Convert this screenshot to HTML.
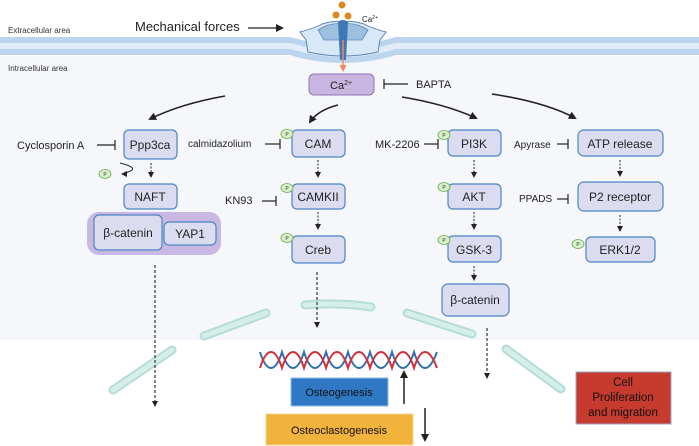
<!DOCTYPE html>
<html><head><meta charset="utf-8"><style>
body{margin:0;background:#fff}
svg{display:block;font-family:"Liberation Sans",sans-serif}
</style></head><body>
<svg width="699" height="446" viewBox="0 0 699 446" xmlns="http://www.w3.org/2000/svg">
<defs>
<marker id="ah" markerWidth="8" markerHeight="8" refX="6" refY="4" orient="auto" markerUnits="userSpaceOnUse"><path d="M0,0 L8,4 L0,8 Z" fill="#222"/></marker>
<marker id="as" markerWidth="6" markerHeight="6" refX="5" refY="3" orient="auto" markerUnits="userSpaceOnUse"><path d="M0,0 L6,3 L0,6 Z" fill="#222"/></marker>
<marker id="ao" markerWidth="7" markerHeight="7" refX="5" refY="3.5" orient="auto" markerUnits="userSpaceOnUse"><path d="M0,0 L7,3.5 L0,7 Z" fill="#f08a5d"/></marker>
</defs>
<rect width="699" height="446" fill="#fff"/>
<path d="M0,56 L699,56 L699,340 L0,340 Z" fill="#f5f7fa"/>
<!-- membrane -->
<path d="M0,40 L290,40 Q343,56 396,40 L699,40" fill="none" stroke="#bcd4ee" stroke-width="6"/>
<path d="M0,46 L290,46 Q343,62 396,46 L699,46" fill="none" stroke="#e3edf8" stroke-width="6"/>
<path d="M0,52 L290,52 Q343,68 396,52 L699,52" fill="none" stroke="#bcd4ee" stroke-width="6"/>
<!-- channel -->
<path d="M300,32 Q315,28 322,24 Q335,20 343,22 Q351,20 364,24 Q371,28 386,32 L380,40 L378,52 Q343,60 308,52 L306,40 Z" fill="#d9e8f6" stroke="#5a88b8" stroke-width="1"/>
<path d="M318,30 Q330,22 343,24 Q356,22 368,30 L362,40 L324,40 Z" fill="#9dbfe0" stroke="#5a88b8" stroke-width="0.8"/>
<path d="M338,22 Q343,18 348,22 L346,60 L340,60 Z" fill="#3f79b5"/>
<line x1="343" y1="40" x2="343" y2="70" stroke="#f08a5d" stroke-width="1.5" marker-end="url(#ao)"/>
<circle cx="342" cy="5" r="3.5" fill="#d98a1e"/><circle cx="336" cy="15" r="3.5" fill="#d98a1e"/><circle cx="348" cy="16" r="3.5" fill="#d98a1e"/>
<text x="362" y="22" font-size="8" fill="#222">Ca<tspan font-size="5" dy="-3">2+</tspan></text>
<text x="8" y="33" font-size="8" fill="#333">Extracellular area</text>
<text x="8" y="71" font-size="8" fill="#333">Intracellular area</text>
<text x="135" y="31" font-size="13" fill="#222">Mechanical forces</text>
<line x1="248" y1="28" x2="282" y2="28" stroke="#222" stroke-width="1.3" marker-end="url(#ah)"/>
<!-- Ca box -->
<rect x="309" y="74" width="65" height="21" rx="5" fill="#c9b6e0" stroke="#8d74b5" stroke-width="1"/>
<text x="330" y="89" font-size="11" fill="#222">Ca<tspan font-size="7" dy="-4">2+</tspan></text>
<line x1="384" y1="84" x2="408" y2="84" stroke="#222" stroke-width="1.2"/><line x1="384" y1="79" x2="384" y2="89" stroke="#222" stroke-width="1.2"/>
<text x="416" y="88" font-size="11" fill="#222">BAPTA</text>
<!-- curved arrows -->
<g fill="none" stroke="#222" stroke-width="1.6">
<path d="M225,96 Q180,104 150,119" marker-end="url(#ah)"/>
<path d="M338,105 Q318,110 310,122" marker-end="url(#ah)"/>
<path d="M402,97 Q445,104 476,118" marker-end="url(#ah)"/>
<path d="M492,94 Q545,102 575,118" marker-end="url(#ah)"/>
</g>
<!-- nuclear membrane -->
<g stroke="#b5ddd7" stroke-width="9" stroke-linecap="round" fill="none">
<path d="M113,390 L172,350"/><path d="M204,336 L266,313"/><path d="M305,305 Q338,302 371,307"/>
<path d="M407,313 L472,334"/><path d="M506,349 L561,389"/>
</g>
<g stroke="#d6eeea" stroke-width="5" stroke-linecap="round" fill="none">
<path d="M113,390 L172,350"/><path d="M204,336 L266,313"/><path d="M305,305 Q338,302 371,307"/>
<path d="M407,313 L472,334"/><path d="M506,349 L561,389"/>
</g>
<!-- boxes -->
<g fill="#dcdcf0" stroke="#4a86c5" stroke-width="1.2">
<rect x="87" y="212" width="134" height="43" rx="12" fill="#c9b8e2" stroke="none"/>
<rect x="124" y="130" width="53" height="29" rx="5"/>
<rect x="124" y="184" width="53" height="25" rx="5"/>
<rect x="94" y="215" width="68" height="35" rx="5"/>
<rect x="164" y="222" width="52" height="23" rx="5"/>
<rect x="292" y="130" width="53" height="27" rx="5"/>
<rect x="292" y="184" width="53" height="25" rx="5"/>
<rect x="292" y="236" width="53" height="27" rx="5"/>
<rect x="448" y="130" width="53" height="26" rx="5"/>
<rect x="448" y="184" width="53" height="25" rx="5"/>
<rect x="448" y="236" width="53" height="26" rx="5"/>
<rect x="442" y="284" width="67" height="32" rx="6"/>
<rect x="578" y="130" width="85" height="26" rx="6"/>
<rect x="578" y="182" width="85" height="29" rx="6"/>
<rect x="586" y="237" width="69" height="25" rx="5"/>
</g>
<g font-size="12" fill="#222" text-anchor="middle">
<text x="150" y="149">Ppp3ca</text><text x="150" y="201">NAFT</text>
<text x="128" y="237">β-catenin</text><text x="190" y="238">YAP1</text>
<text x="318" y="148">CAM</text><text x="318" y="201">CAMKII</text><text x="318" y="254">Creb</text>
<text x="474" y="148">PI3K</text><text x="474" y="201">AKT</text><text x="474" y="254">GSK-3</text>
<text x="475" y="304">β-catenin</text>
<text x="620" y="148">ATP release</text><text x="620" y="201">P2 receptor</text><text x="620" y="254">ERK1/2</text>
</g>
<!-- inhibitors -->
<g font-size="11" fill="#222">
<text x="17" y="149">Cyclosporin A</text>
<text x="188" y="147" font-size="10">calmidazolium</text>
<text x="225" y="204">KN93</text>
<text x="375" y="148">MK-2206</text>
<text x="514" y="148" font-size="10">Apyrase</text>
<text x="519" y="202" font-size="10">PPADS</text>
</g>
<g stroke="#222" stroke-width="1.2">
<line x1="97" y1="145" x2="115" y2="145"/><line x1="115" y1="140" x2="115" y2="150"/>
<line x1="265" y1="144" x2="280" y2="144"/><line x1="280" y1="139" x2="280" y2="149"/>
<line x1="262" y1="201" x2="276" y2="201"/><line x1="276" y1="196" x2="276" y2="206"/>
<line x1="424" y1="144" x2="438" y2="144"/><line x1="438" y1="139" x2="438" y2="149"/>
<line x1="557" y1="144" x2="568" y2="144"/><line x1="568" y1="139" x2="568" y2="149"/>
<line x1="557" y1="199" x2="568" y2="199"/><line x1="568" y1="194" x2="568" y2="204"/>
</g>
<!-- small dashed arrows -->
<g stroke="#222" stroke-width="1" stroke-dasharray="2,1.5" fill="none">
<line x1="151" y1="163" x2="151" y2="177" marker-end="url(#as)"/>
<line x1="318" y1="160" x2="318" y2="177" marker-end="url(#as)"/>
<line x1="318" y1="212" x2="318" y2="229" marker-end="url(#as)"/>
<line x1="474" y1="160" x2="474" y2="177" marker-end="url(#as)"/>
<line x1="474" y1="212" x2="474" y2="229" marker-end="url(#as)"/>
<line x1="474" y1="266" x2="474" y2="280" marker-end="url(#as)"/>
<line x1="620" y1="160" x2="620" y2="176" marker-end="url(#as)"/>
<line x1="620" y1="215" x2="620" y2="231" marker-end="url(#as)"/>
</g>
<path d="M120,163 Q140,168 128,172 Q124,174 122,174" fill="none" stroke="#222" stroke-width="1" marker-end="url(#as)"/>
<!-- P circles -->
<g fill="#d7f0c8" stroke="#6aa84f" stroke-width="0.8">
<ellipse cx="105" cy="174" rx="6" ry="4.5"/><ellipse cx="287" cy="134" rx="6" ry="4.5"/><ellipse cx="287" cy="188" rx="6" ry="4.5"/><ellipse cx="287" cy="238" rx="6" ry="4.5"/>
<ellipse cx="444" cy="135" rx="6" ry="4.5"/><ellipse cx="444" cy="187" rx="6" ry="4.5"/><ellipse cx="444" cy="240" rx="6" ry="4.5"/><ellipse cx="578" cy="244" rx="6" ry="4.5"/>
</g>
<g font-size="5" fill="#333" text-anchor="middle"><text x="105" y="176">P</text><text x="287" y="136">P</text><text x="287" y="190">P</text><text x="287" y="240">P</text><text x="444" y="137">P</text><text x="444" y="189">P</text><text x="444" y="242">P</text><text x="578" y="246">P</text></g>
<!-- long dashed arrows -->
<g stroke="#222" stroke-width="1.1" stroke-dasharray="3,2" fill="none">
<line x1="155" y1="265" x2="155" y2="406" marker-end="url(#as)"/>
<line x1="317" y1="272" x2="317" y2="327" marker-end="url(#as)"/>
<line x1="487" y1="328" x2="487" y2="378" marker-end="url(#as)"/>
</g>
<!-- DNA -->
<g fill="none" stroke-width="2">
<path d="M260,352 Q265,368 271,368 Q277,368 282,352 Q287,368 293,368 Q299,368 304,352 Q309,368 315,368 Q321,368 326,352 Q331,368 337,368 Q343,368 348,352 Q353,368 359,368 Q365,368 370,352 Q375,368 381,368 Q387,368 392,352 Q397,368 403,368 Q409,368 414,352 Q419,368 425,368 Q431,368 437,352" stroke="#2f6fb0"/>
<path d="M260,368 Q265,352 271,352 Q277,352 282,368 Q287,352 293,352 Q299,352 304,368 Q309,352 315,352 Q321,352 326,368 Q331,352 337,352 Q343,352 348,368 Q353,352 359,352 Q365,352 370,368 Q375,352 381,352 Q387,352 392,368 Q397,352 403,352 Q409,352 414,368 Q419,352 425,352 Q431,352 437,368" stroke="#d32f3a"/>
</g>
<!-- outcome boxes -->
<rect x="291" y="378" width="97" height="28" fill="#2f79c4" stroke="#8fbbe4" stroke-width="1"/>
<text x="339" y="396" font-size="11" fill="#111" text-anchor="middle">Osteogenesis</text>
<rect x="266" y="414" width="147" height="31" fill="#f2b33d" stroke="#f6d48a" stroke-width="1"/>
<text x="339" y="434" font-size="11" fill="#111" text-anchor="middle">Osteoclastogenesis</text>
<line x1="404" y1="404" x2="404" y2="372" stroke="#222" stroke-width="1.5" marker-end="url(#ah)"/>
<line x1="425" y1="408" x2="425" y2="440" stroke="#222" stroke-width="1.5" marker-end="url(#ah)"/>
<rect x="576" y="372" width="95" height="52" fill="#c73a2e" stroke="#9aa6cf" stroke-width="1"/>
<g font-size="11.5" fill="#111" text-anchor="middle"><text x="623" y="386">Cell</text><text x="623" y="401">Proliferation</text><text x="623" y="416">and migration</text></g>
</svg>
</body></html>
